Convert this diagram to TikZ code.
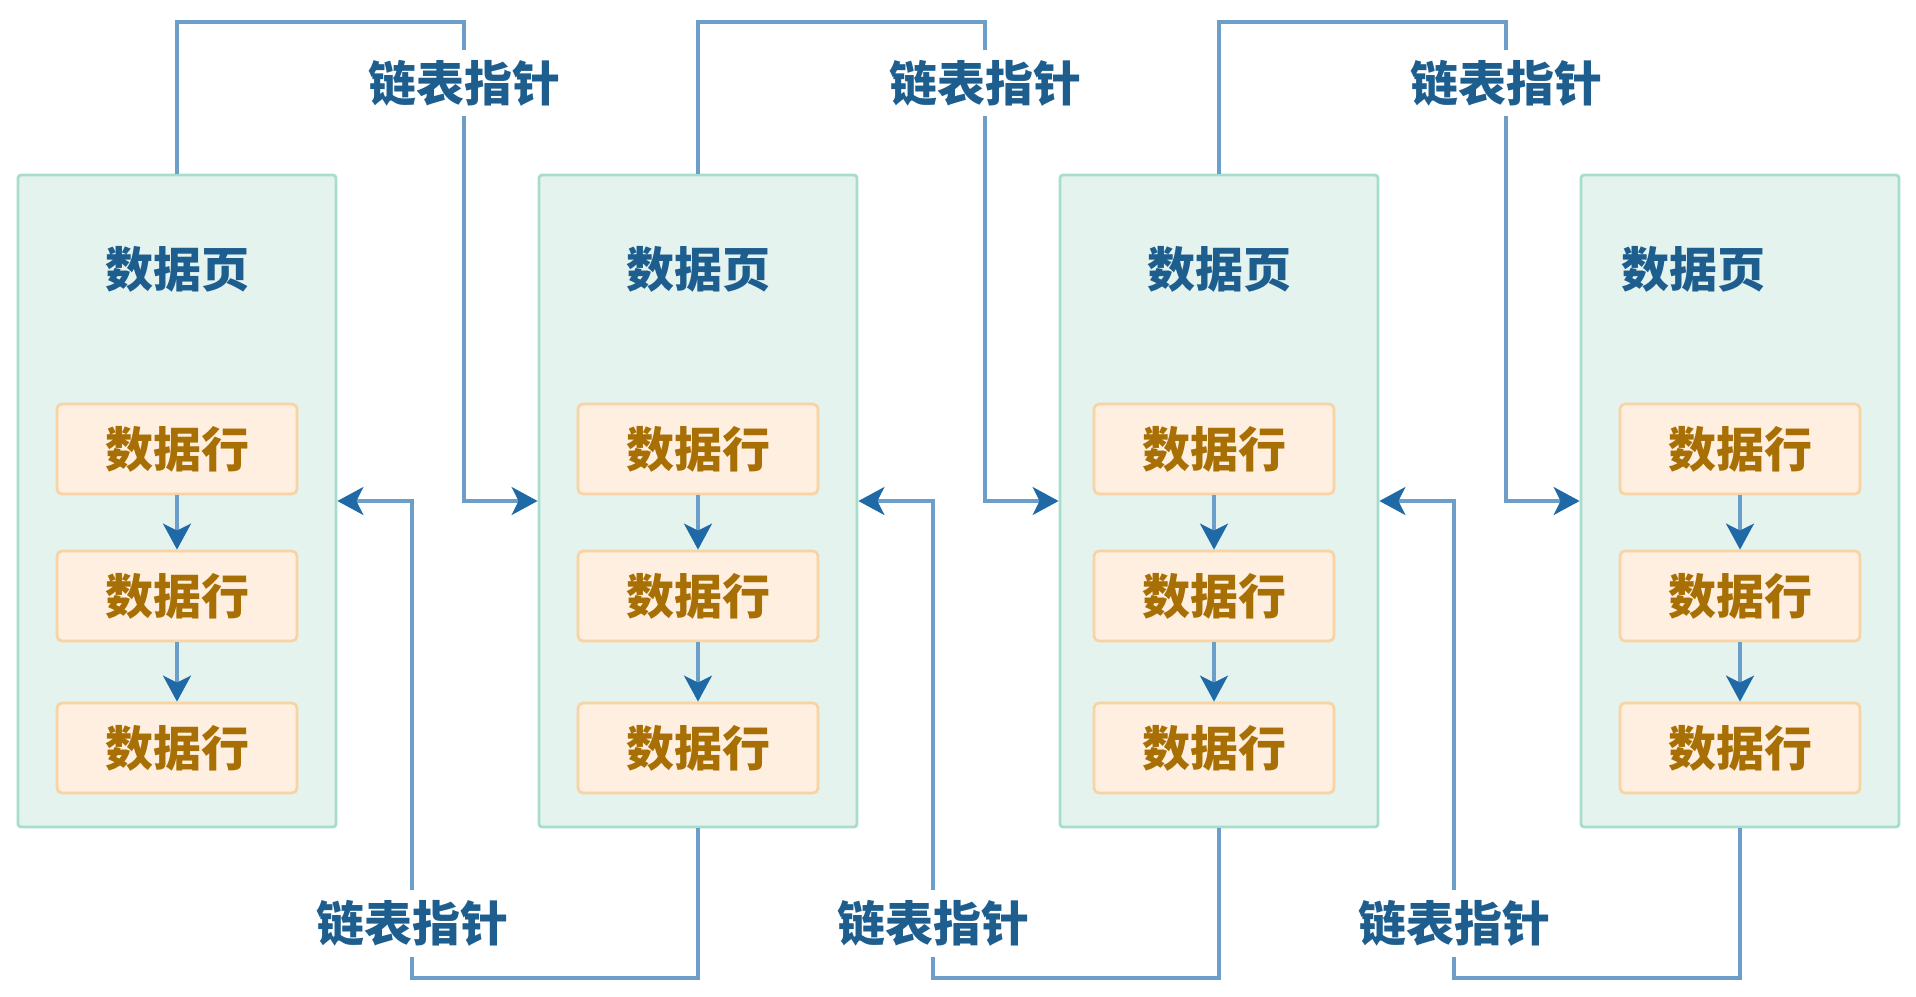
\documentclass[tikz,border=0pt]{standalone}
\usepackage{fontspec}
\setmainfont{Noto Sans CJK SC}
\usepackage{xcolor}
\usetikzlibrary{arrows.meta,positioning}
\definecolor{pagefill}{HTML}{E5F3EE}
\definecolor{pageline}{HTML}{A7DDCB}
\definecolor{rowfill}{HTML}{FEEFE0}
\definecolor{rowline}{HTML}{F8D3A3}
\definecolor{rowink}{HTML}{A87004}
\definecolor{inkblue}{HTML}{1D5E8E}
\definecolor{lineblue}{HTML}{6B9FCA}
\definecolor{tipblue}{HTML}{1F6AA6}
\tikzset{
  >={Stealth[length=13pt,width=14pt,inset=3.5pt,color=tipblue]},
  every node/.style={font=\fontsize{24}{28}\selectfont\bfseries},
  pagebox/.style={draw=pageline,line width=1.4pt,fill=pagefill,rounded corners=1.5pt,minimum width=159pt,minimum height=326pt,inner sep=0pt},
  pagetitle/.style={text=inkblue,inner sep=0pt},
  rowbox/.style={draw=rowline,line width=1.4pt,fill=rowfill,rounded corners=2.5pt,minimum width=120pt,minimum height=45pt,inner sep=0pt,text=rowink},
  ptrlabel/.style={fill=white,text=inkblue,inner sep=5pt},
  ptrline/.style={draw=lineblue,line width=1.6pt},
}
\begin{document}
\begin{tikzpicture}[x=0.5pt,y=-0.5pt]
  \useasboundingbox (0,0) rectangle (1916,996);
  % data pages, each with three rows
  \foreach \i/\tdx/\rdx in {1/0/0,2/0/0,3/0/-5,4/-47/0}{
    \pgfmathsetmacro{\cx}{177+521*(\i-1)}
    \node[pagebox] (p\i) at (\cx,501) {};
    \node[pagetitle] (t\i) at (\cx+\tdx,269) {数据页};
    \foreach \j/\y in {1/449,2/596,3/748}
      \node[rowbox] (r\i\j) at (\cx+\rdx,\y) {数据行};
    \draw[ptrline,->] (r\i1) -- (r\i2);
    \draw[ptrline,->] (r\i2) -- (r\i3);
  }
  % list pointers: forward over the top, backward under the bottom
  \foreach \i/\n in {1/2,2/3,3/4}{
    \pgfmathsetmacro{\cx}{177+521*(\i-1)}
    \node[ptrlabel] (up\i) at (\cx+287,83) {链表指针};
    \node[ptrlabel] (dn\i) at (\cx+235,923) {链表指针};
    \coordinate (uc\i) at (p\i.north |- 0,22);
    \coordinate (dc\i) at (p\n.south |- 0,978);
    \draw[ptrline] (p\i.north) -- (uc\i) -| (up\i);
    \draw[ptrline,->] (up\i) |- (p\n.west);
    \draw[ptrline] (p\n.south) -- (dc\i) -| (dn\i);
    \draw[ptrline,->] (dn\i) |- (p\i.east);
  }
\end{tikzpicture}
\end{document}
